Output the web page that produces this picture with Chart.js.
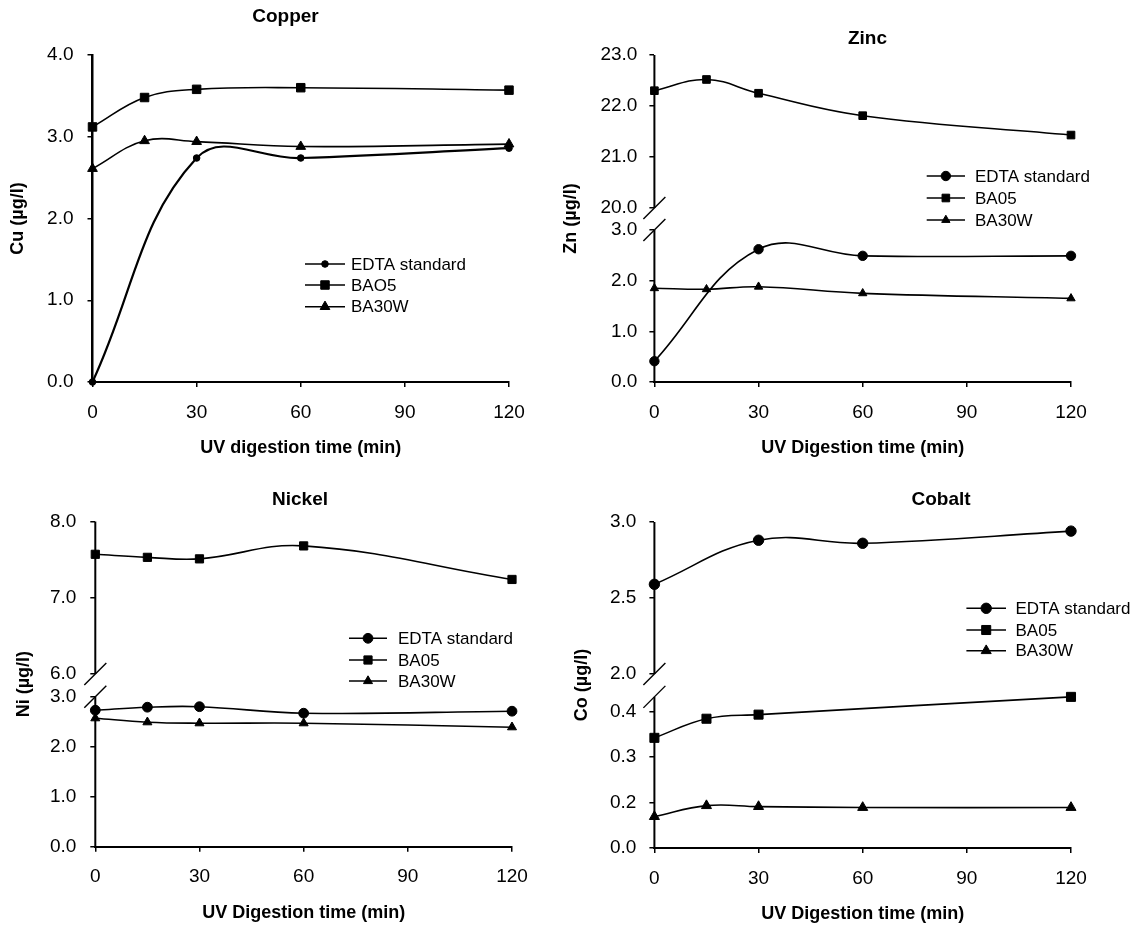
<!DOCTYPE html>
<html>
<head>
<meta charset="utf-8">
<script src="https://cdn.jsdelivr.net/npm/chart.js@4.4.1/dist/chart.umd.min.js"></script>
<style>
  html, body { margin: 0; padding: 0; background: #fff; overflow: hidden; }
  body { width: 1141px; height: 929px; position: relative; }
  canvas { position: absolute; }
</style>
</head>
<body>
<canvas id="copper" width="560" height="465" style="left:0px;top:0px"></canvas>
<canvas id="zinc" width="591" height="465" style="left:550px;top:0px"></canvas>
<canvas id="nickel" width="560" height="464" style="left:0px;top:465px"></canvas>
<canvas id="cobalt" width="591" height="464" style="left:550px;top:465px"></canvas>
<script>
// sampling times (min) and x tick values
const times = [0, 15, 30, 60, 120];
const timeTicks = [0, 30, 60, 90, 120];

// Copper
const copperNames = ['EDTA standard', 'BAO5', 'BA30W'];
const copperEdta = [0.00, null, 2.74, 2.74, 2.86];
const copperBa05 = [3.12, 3.48, 3.58, 3.60, 3.57];
const copperBa30w = [2.61, 2.95, 2.94, 2.88, 2.91];
const copperTicks = [0, 1, 2, 3, 4];

// Zinc (broken axis)
const zincNames = ['EDTA standard', 'BA05', 'BA30W'];
const zincEdta = [0.41, null, 2.62, 2.49, 2.49];
const zincBa05 = [22.30, 22.52, 22.25, 21.81, 21.43];
const zincBa30w = [1.85, 1.83, 1.88, 1.75, 1.65];
const zincHighTicks = [20, 21, 22, 23];
const zincLowTicks = [0, 1, 2, 3];

// Nickel (broken axis)
const nickelNames = ['EDTA standard', 'BA05', 'BA30W'];
const nickelEdta = [2.73, 2.79, 2.80, 2.67, 2.71];
const nickelBa05 = [7.57, 7.53, 7.51, 7.68, 7.24];
const nickelBa30w = [2.57, 2.49, 2.47, 2.47, 2.39];
const nickelHighTicks = [6, 7, 8];
const nickelLowTicks = [0, 1, 2, 3];

// Cobalt (broken axis)
const cobaltNames = ['EDTA standard', 'BA05', 'BA30W'];
const cobaltEdta = [2.59, null, 2.88, 2.86, 2.94];
const cobaltBa05 = [0.342, 0.384, 0.393, null, 0.432];
const cobaltBa30w = [0.169, 0.193, 0.191, 0.189, 0.189];
const cobaltHighTicks = [2.0, 2.5, 3.0];
const cobaltLowTicks = [0.1, 0.2, 0.3, 0.4];
const cobaltLowTickLabels = ['0.0', '0.2', '0.3', '0.4'];

Chart.defaults.font.family = '"Liberation Sans", Arial, Helvetica, sans-serif';
Chart.defaults.color = '#000';

const FONT = '"Liberation Sans", Arial, Helvetica, sans-serif';
const X_H = 78, TITLE_W = 40;

function pts(vals) {
  return vals.map((v, i) => ({ x: times[i], y: v })).filter(p => p.y !== null);
}
function fmt(ticks) { return ticks.map(v => v.toFixed(1)); }

function marker(ctx, style, r, x, y) {
  ctx.beginPath();
  if (style === 'circle') {
    ctx.arc(x, y, r, 0, Math.PI * 2);
  } else if (style === 'rect') {
    const s = r * Math.SQRT1_2;
    ctx.rect(x - s, y - s, 2 * s, 2 * s);
  } else {
    ctx.moveTo(x, y - r);
    ctx.lineTo(x + 0.866 * r, y + 0.5 * r);
    ctx.lineTo(x - 0.866 * r, y + 0.5 * r);
    ctx.closePath();
  }
  ctx.fill();
  ctx.stroke();
}

// titles, legend and the broken y axis
const decor = {
  id: 'decor',
  afterDraw(chart, args, o) {
    const ctx = chart.ctx, area = chart.chartArea;
    ctx.save();
    ctx.strokeStyle = '#000';
    ctx.fillStyle = '#000';
    (o.axisLines || []).forEach(a => {
      const s = chart.scales[a.scale];
      const x = area.left;
      ctx.lineWidth = 2;
      ctx.beginPath();
      ctx.moveTo(x, s.getPixelForValue(a.from));
      ctx.lineTo(x, s.getPixelForValue(a.to));
      ctx.stroke();
      const yb = s.getPixelForValue(a.breakAt);
      ctx.lineWidth = 1.4;
      ctx.beginPath();
      ctx.moveTo(x - 11, yb + 11);
      ctx.lineTo(x + 11, yb - 11);
      ctx.stroke();
    });
    ctx.font = 'bold 19px ' + FONT;
    ctx.textAlign = 'center';
    ctx.textBaseline = 'middle';
    ctx.fillText(o.title.text, o.title.x, o.title.y);
    const lg = o.legend;
    ctx.font = '17px ' + FONT;
    ctx.textAlign = 'left';
    chart.data.datasets.forEach((ds, i) => {
      const y = lg.rows[i];
      ctx.lineWidth = 1.6;
      ctx.beginPath();
      ctx.moveTo(lg.x1, y);
      ctx.lineTo(lg.x2, y);
      ctx.stroke();
      ctx.lineWidth = 1;
      marker(ctx, ds.pointStyle, ds.pointRadius, (lg.x1 + lg.x2) / 2, y);
      ctx.fillText(ds.label, lg.tx, y + 1);
    });
    ctx.restore();
  }
};

function series(label, vals, axis, style, r, width) {
  return {
    label: label, data: pts(vals), yAxisID: axis,
    borderColor: '#000', borderWidth: width || 1.6,
    pointStyle: style, pointRadius: r, pointBorderWidth: 1,
    pointBackgroundColor: '#000', pointBorderColor: '#000',
    tension: 0.4, fill: false, clip: false
  };
}

function buildPanel(id, p) {
  const canvas = document.getElementById(id);
  const W = canvas.width, H = canvas.height;
  const broken = p.segments.length > 1;
  const scales = {
    x: {
      type: 'linear', position: 'bottom', min: 0, max: 120,
      afterBuildTicks: s => { s.ticks = timeTicks.map(v => ({ value: v })); },
      ticks: { padding: 14, font: { size: 19 }, color: '#000' },
      grid: { display: true, drawOnChartArea: false, drawTicks: true, tickLength: 5, color: '#000', lineWidth: 1.5 },
      border: { display: true, color: '#000', width: 2 },
      title: { display: true, text: p.xTitle, font: { size: 18, weight: 'bold' }, color: '#000', padding: { top: 0, bottom: 1 } },
      afterFit: s => { s.height = X_H; }
    },
    yTitle: {
      type: 'linear', position: 'left', weight: 10,
      ticks: { display: false }, grid: { display: false }, border: { display: false },
      title: { display: true, text: p.yTitle, font: { size: 18, weight: 'bold' }, color: '#000', padding: { top: p.yTitleX - 10.8, bottom: 0 } },
      afterFit: s => { s.width = TITLE_W; }
    }
  };
  p.segments.forEach(seg => {
    scales[seg.id] = {
      type: 'linear', position: 'left', weight: seg.order,
      stack: broken ? 'left' : undefined, stackWeight: seg.weight,
      min: seg.min, max: seg.max,
      afterBuildTicks: s => { s.ticks = seg.ticks.map(v => ({ value: v })); },
      ticks: { padding: p.tickPad, font: { size: 19 }, color: '#000', callback: (v, i) => seg.labels[i] },
      grid: { display: true, drawOnChartArea: false, drawTicks: true, tickLength: 5, color: '#000', lineWidth: 1.5 },
      border: { display: !broken, color: '#000', width: 2.5 },
      afterFit: s => { s.width = p.left - TITLE_W; }
    };
  });
  return new Chart(canvas, {
    type: 'line',
    data: { datasets: p.datasets },
    options: {
      responsive: false, animation: false, events: [],
      layout: { padding: { left: 0, top: p.top, right: W - p.right, bottom: H - p.bottom - X_H } },
      plugins: {
        legend: { display: false }, title: { display: false }, tooltip: { enabled: false },
        decor: { title: p.title, legend: p.legend, axisLines: p.axisLines }
      },
      scales: scales
    },
    plugins: [decor]
  });
}

buildPanel('copper', {
  left: 92.5, right: 509, top: 55, bottom: 382, tickPad: 14, yTitleX: 18,
  xTitle: 'UV digestion time (min)', yTitle: 'Cu (\u00b5g/l)',
  title: { text: 'Copper', x: 285.5, y: 16.5 },
  legend: { x1: 305, x2: 345, tx: 351, rows: [264, 285, 306.7] },
  segments: [{ id: 'y', order: 1, weight: 1, min: 0, max: 4, ticks: copperTicks, labels: fmt(copperTicks) }],
  datasets: [
    series(copperNames[0], copperEdta, 'y', 'circle', 3.3, 2.2),
    series(copperNames[1], copperBa05, 'y', 'rect', 6),
    series(copperNames[2], copperBa30w, 'y', 'triangle', 5.6)
  ]
});

buildPanel('zinc', {
  left: 104.4, right: 521, top: 55, bottom: 382, tickPad: 12, yTitleX: 21,
  xTitle: 'UV Digestion time (min)', yTitle: 'Zn (\u00b5g/l)',
  title: { text: 'Zinc', x: 317.5, y: 38.3 },
  legend: { x1: 376.7, x2: 415, tx: 425, rows: [176, 198, 220] },
  segments: [
    { id: 'yHigh', order: 2, weight: 164, min: 19.784, max: 23, ticks: zincHighTicks, labels: fmt(zincHighTicks) },
    { id: 'yLow', order: 1, weight: 163, min: 0, max: 3.217, ticks: zincLowTicks, labels: fmt(zincLowTicks) }
  ],
  axisLines: [
    { scale: 'yHigh', from: 20, to: 23, breakAt: 20 },
    { scale: 'yLow', from: 0, to: 3, breakAt: 3 }
  ],
  datasets: [
    series(zincNames[0], zincEdta, 'yLow', 'circle', 4.7),
    series(zincNames[1], zincBa05, 'yHigh', 'rect', 5.4),
    series(zincNames[2], zincBa30w, 'yLow', 'triangle', 4.8)
  ]
});

buildPanel('nickel', {
  left: 95.3, right: 512, top: 56.5, bottom: 381.7, tickPad: 14, yTitleX: 24,
  xTitle: 'UV Digestion time (min)', yTitle: 'Ni (\u00b5g/l)',
  title: { text: 'Nickel', x: 300, y: 35 },
  legend: { x1: 349, x2: 387, tx: 398, rows: [173.3, 195, 216] },
  segments: [
    { id: 'yHigh', order: 2, weight: 163.8, min: 5.852, max: 8, ticks: nickelHighTicks, labels: fmt(nickelHighTicks) },
    { id: 'yLow', order: 1, weight: 161.4, min: 0, max: 3.228, ticks: nickelLowTicks, labels: fmt(nickelLowTicks) }
  ],
  axisLines: [
    { scale: 'yHigh', from: 6, to: 8, breakAt: 6 },
    { scale: 'yLow', from: 0, to: 3, breakAt: 3 }
  ],
  datasets: [
    series(nickelNames[0], nickelEdta, 'yLow', 'circle', 4.9),
    series(nickelNames[1], nickelBa05, 'yHigh', 'rect', 5.8),
    series(nickelNames[2], nickelBa30w, 'yLow', 'triangle', 5.2)
  ]
});

buildPanel('cobalt', {
  left: 104.4, right: 521, top: 57, bottom: 383, tickPad: 13, yTitleX: 32,
  xTitle: 'UV Digestion time (min)', yTitle: 'Co (\u00b5g/l)',
  title: { text: 'Cobalt', x: 391, y: 35 },
  legend: { x1: 416.4, x2: 456, tx: 465.5, rows: [143.3, 165, 185.7] },
  segments: [
    { id: 'yHigh', order: 2, weight: 163.5, min: 1.924, max: 3, ticks: cobaltHighTicks, labels: fmt(cobaltHighTicks) },
    { id: 'yLow', order: 1, weight: 162.5, min: 0.1, max: 0.457, ticks: cobaltLowTicks, labels: cobaltLowTickLabels }
  ],
  axisLines: [
    { scale: 'yHigh', from: 2, to: 3, breakAt: 2 },
    { scale: 'yLow', from: 0.1, to: 0.432, breakAt: 0.432 }
  ],
  datasets: [
    series(cobaltNames[0], cobaltEdta, 'yHigh', 'circle', 5.2),
    series(cobaltNames[1], cobaltBa05, 'yLow', 'rect', 6.4),
    series(cobaltNames[2], cobaltBa30w, 'yLow', 'triangle', 5.8)
  ]
});
</script>
</body>
</html>
